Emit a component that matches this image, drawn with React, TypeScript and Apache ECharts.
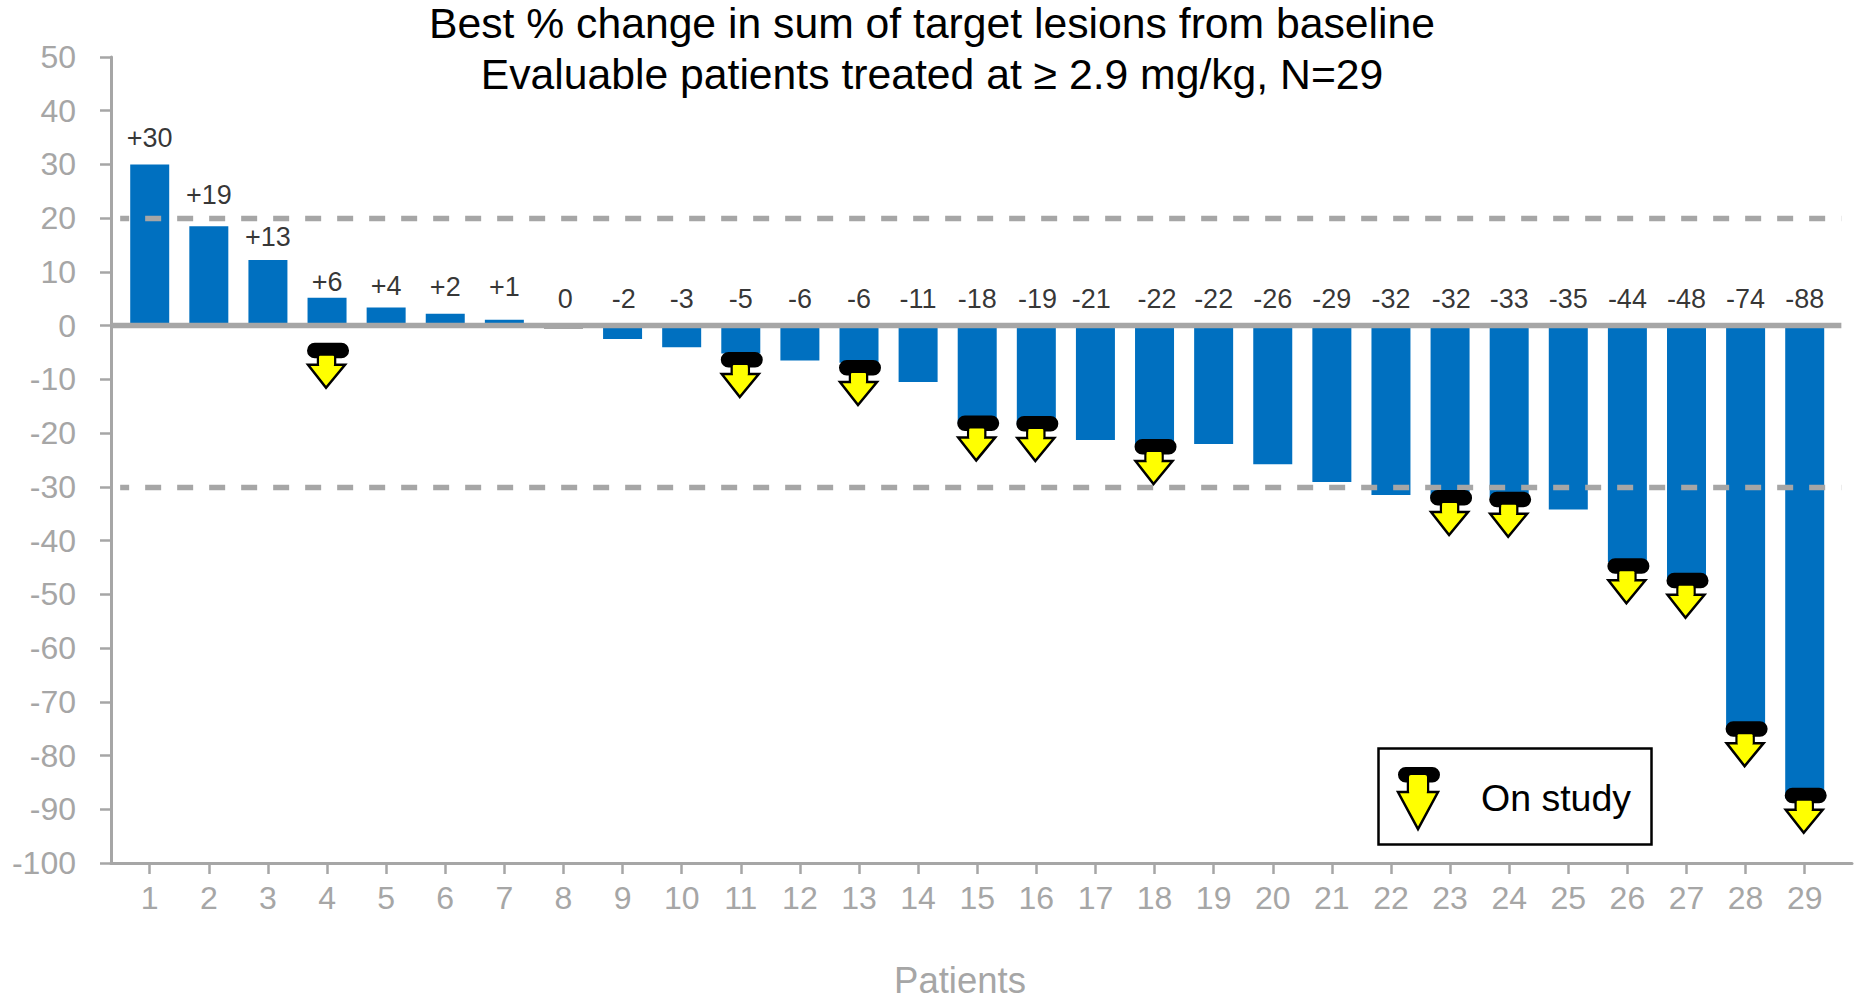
import React, { useEffect, useRef } from "react";
import * as echarts from "echarts";

const titleLines = [
  "Best % change in sum of target lesions from baseline",
  "Evaluable patients treated at ≥ 2.9 mg/kg, N=29",
];
const patients = Array.from({ length: 29 }, (_, i) => i + 1);
const bestChange = [
  30, 18.5, 12.2, 5.2, 3.4, 2.2, 1.1, -0.6, -2.5, -4, -5.2, -6.5, -6.9, -10.5, -18, -18.5, -21.3,
  -22, -22, -25.8, -29.1, -31.5, -32, -32, -34.2, -44, -48, -74.8, -88,
];
const labelTexts = [
  "+30", "+19", "+13", "+6", "+4", "+2", "+1", "0", "-2", "-3", "-5", "-6", "-6", "-11", "-18",
  "-19", "-21", "-22", "-22", "-26", "-29", "-32", "-32", "-33", "-35", "-44", "-48", "-74", "-88",
];
const labelX = [
  1, 2, 3, 4, 5, 6, 7, 8.03, 9.02, 10, 11, 12, 13, 14, 15, 16.02, 16.93, 18.04, 19, 20, 21, 22,
  23.02, 24, 25, 26, 27, 28, 29,
];
const labelLevels = [
  34.9, 24.4, 16.5, 8.2, 7.3, 7.2, 7.2, 4.9, 4.9, 4.9, 4.9, 4.9, 4.9, 4.9, 4.9, 4.9, 4.9, 4.9, 4.9,
  4.9, 4.9, 4.9, 4.9, 4.9, 4.9, 4.9, 4.9, 4.9, 4.9,
];
const onStudyPatients = [4, 11, 13, 15, 16, 18, 23, 24, 26, 27, 28, 29];
const onStudyLevels = [-3.2, -4.9, -6.4, -16.7, -16.8, -21.1, -30.6, -30.9, -43.3, -46, -73.6, -86];
const thresholds = [20, -30];

const FONT = "Liberation Sans";
const GREY = "#A6A6A6";
const BLUE = "#0070C0";
const X_MIN = 0.345;
const X_MAX = 29.8;
const LINE_START = 0.5;
const LINE_END = 29.62;

export default function App() {
  const ref = useRef<HTMLDivElement>(null);
  useEffect(() => {
    const chart = echarts.init(ref.current!, undefined, { renderer: "svg" });
    chart.setOption({
      animation: false,
      backgroundColor: "#fff",
      textStyle: { fontFamily: FONT },
      title: {
        text: titleLines.join("\n"),
        left: 927,
        top: -7,
        textAlign: "center",
        textStyle: { fontFamily: FONT, fontSize: 42.7, fontWeight: "normal", color: "#000", lineHeight: 50.5 },
      },
      grid: { left: 111, right: 5, top: 57, bottom: 137, outerBoundsMode: "none" },
      xAxis: {
        type: "value",
        min: X_MIN,
        max: X_MAX,
        splitLine: { show: false },
        axisLine: { onZero: false, lineStyle: { color: GREY, width: 3 } },
        axisTick: { show: true, length: 11, customValues: patients, lineStyle: { color: GREY, width: 2.5 } },
        axisLabel: { customValues: patients, color: GREY, fontSize: 32, fontFamily: FONT, margin: 19 },
      },
      yAxis: {
        type: "value",
        min: -100,
        max: 50,
        interval: 10,
        splitLine: { show: false },
        axisLine: { show: true, onZero: false, lineStyle: { color: GREY, width: 3 } },
        axisTick: { show: true, length: 11, lineStyle: { color: GREY, width: 2.5 } },
        axisLabel: { color: GREY, fontSize: 32, fontFamily: FONT, margin: 35 },
      },
      series: [
        {
          type: "bar",
          barWidth: 39,
          data: patients.map((p, i) => ({
            value: [p, bestChange[i]],
            itemStyle: { color: labelTexts[i] === "0" ? GREY : BLUE },
          })),
          z: 2,
          markLine: {
            silent: true,
            symbol: "none",
            label: { show: false },
            animation: false,
            data: [
              [
                { coord: [X_MIN, 0], lineStyle: { color: GREY, width: 5.3, type: "solid" } },
                { coord: [LINE_END, 0] },
              ],
              ...thresholds.map((t) => [
                {
                  coord: [LINE_START, t],
                  lineStyle: { color: GREY, width: 5.3, type: [16, 16], dashOffset: 7.3 },
                },
                { coord: [LINE_END, t] },
              ]),
            ],
          },
        },
        {
          type: "scatter",
          symbolSize: 0,
          z: 4,
          data: labelX.map((x, i) => [x, labelLevels[i], labelTexts[i]]),
          label: {
            show: true,
            position: "inside",
            color: "#000",
            fontSize: 27,
            fontFamily: FONT,
            formatter: (p: any) => p.value[2],
          },
        },
        {
          type: "custom",
          z: 5,
          clip: false,
          data: onStudyPatients.map((p, i) => [p, onStudyLevels[i]]),
          renderItem: (_: any, api: any) => {
            const [cx, top] = api.coord([api.value(0), api.value(1)]);
            return {
              type: "group",
              x: cx + 1,
              y: top,
              children: [
                {
                  type: "polygon",
                  shape: {
                    points: [
                      [-10, 12], [7, 12], [7, 22], [17, 22], [-2, 45], [-20, 22], [-10, 22],
                    ],
                  },
                  style: { fill: "#FFFF00", stroke: "#000", lineWidth: 2.5 },
                },
                {
                  type: "rect",
                  shape: { x: -21, y: 0, width: 42, height: 15.5, r: 7.7 },
                  style: { fill: "#000" },
                },
                {
                  type: "rect",
                  shape: { x: -9, y: 13, width: 15, height: 10, r: 1 },
                  style: { fill: "#FFFF00" },
                },
              ],
            };
          },
        },
      ],
      graphic: [
        {
          type: "text",
          style: {
            x: 960,
            y: 980,
            text: "Patients",
            fill: GREY,
            font: `36.5px "${FONT}"`,
            textAlign: "center",
            textVerticalAlign: "middle",
          },
          z: 13,
        },
        {
          type: "rect",
          shape: { x: 1378.5, y: 748.5, width: 273, height: 96 },
          style: { fill: "#fff", stroke: "#000", lineWidth: 2.5 },
          z: 10,
        },
        {
          type: "polygon",
          shape: {
            points: [
              [1408, 780], [1428, 780], [1428, 792], [1438, 792], [1418, 829], [1398, 792], [1408, 792],
            ],
          },
          style: { fill: "#FFFF00", stroke: "#000", lineWidth: 2.5 },
          z: 11,
        },
        {
          type: "rect",
          shape: { x: 1398, y: 767, width: 42, height: 15.5, r: 7.7 },
          style: { fill: "#000" },
          z: 12,
        },
        {
          type: "rect",
          shape: { x: 1409, y: 775, width: 18, height: 18, r: 2 },
          style: { fill: "#FFFF00" },
          z: 13,
        },
        {
          type: "text",
          style: {
            x: 1481,
            y: 798,
            text: "On study",
            fill: "#000",
            font: `37.5px "${FONT}"`,
            textVerticalAlign: "middle",
          },
          z: 13,
        },
      ],
    });
    return () => chart.dispose();
  }, []);
  return <div ref={ref} style={{ position: "fixed", left: 0, top: 0, width: 1857, height: 1000 }} />;
}
